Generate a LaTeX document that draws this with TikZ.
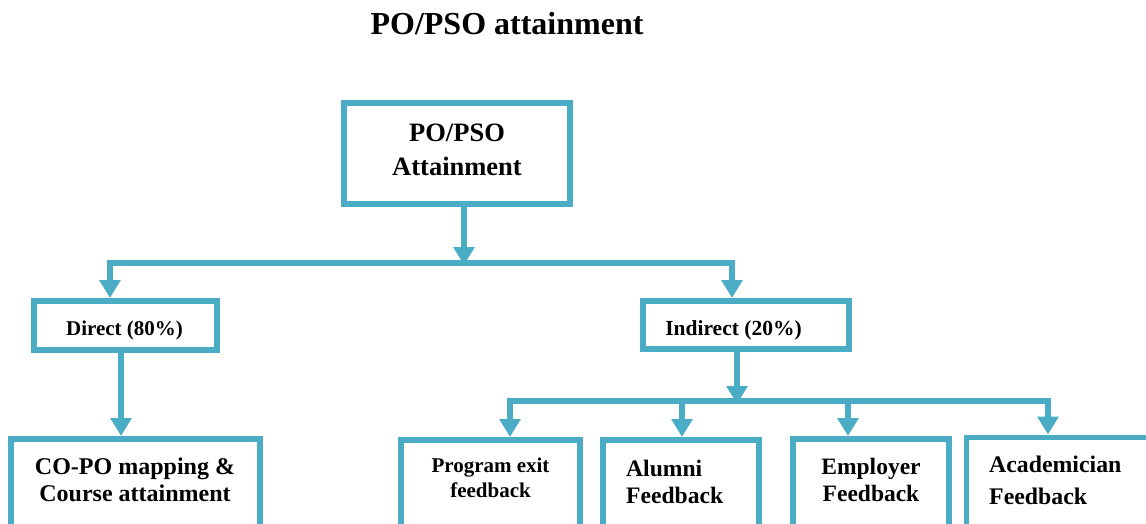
\documentclass[tikz,border=0pt]{standalone}
\usepackage{fontspec}
\setmainfont{Liberation Serif}
\usetikzlibrary{arrows.meta}
\definecolor{frame}{HTML}{4BACC6}
\begin{document}
\begin{tikzpicture}[x=1pt,y=-1pt,
  box/.style={draw=frame,line width=6pt,rectangle,inner sep=0pt,fill=white},
  lbl/.style={inner sep=0pt,font=\bfseries},
  tip/.style={-{Triangle[width=20.5pt,length=18pt]}},
  wire/.style={draw=frame,line width=6pt},
  bothtips/.style={{Triangle[width=20.5pt,length=18pt]}-{Triangle[width=20.5pt,length=18pt]}}]
\useasboundingbox (0,0) rectangle (1146,524);
\begin{scope}
\clip (0,0) rectangle (1146,524);

% heading
\node[lbl,anchor=base,font=\bfseries\fontsize{32}{38}\selectfont] (title) at (507,35) {PO/PSO attainment};

% boxes
\node[box,minimum width=226pt,minimum height=101pt] (main) at (457,153.5) {};
\node[box,minimum width=183pt,minimum height=49pt] (direct) at (125.5,325.5) {};
\node[box,minimum width=206pt,minimum height=48pt] (indirect) at (746,325) {};
\node[box,minimum width=249pt,minimum height=131pt] (copo) at (135.5,504.5) {};
\node[box,minimum width=179pt,minimum height=130pt] (exit) at (490.5,505) {};
\node[box,minimum width=156pt,minimum height=130pt] (alumni) at (681,505) {};
\node[box,minimum width=156pt,minimum height=131pt] (employer) at (871,504.5) {};
\node[box,line width=5pt,minimum width=194pt,minimum height=133pt] (acad) at (1063,503.5) {};

% box texts
\node[lbl,align=center,font=\bfseries\fontsize{26.5}{34}\selectfont] (main-t) at (457,150) {PO/PSO\\Attainment};
\node[lbl,anchor=base,font=\bfseries\fontsize{21}{25}\selectfont] (direct-t) at (124.5,335) {Direct (80\%)};
\node[lbl,anchor=base,font=\bfseries\fontsize{21.5}{25}\selectfont] (indirect-t) at (733.5,335) {Indirect (20\%)};
\node[lbl,align=center,font=\bfseries\fontsize{24}{27}\selectfont] (copo-t) at (135,480) {CO-PO mapping \&\\Course attainment};
\node[lbl,align=center,font=\bfseries\fontsize{21}{25}\selectfont] (exit-t) at (490.5,478) {Program exit\\feedback};
\node[lbl,align=left,anchor=west,font=\bfseries\fontsize{23.6}{27}\selectfont] (alumni-t) at (626,482) {Alumni\\Feedback};
\node[lbl,align=center,font=\bfseries\fontsize{23.5}{27}\selectfont] (employer-t) at (871,480.4) {Employer\\Feedback};
\node[lbl,align=left,anchor=west,font=\bfseries\fontsize{23.8}{32}\selectfont] (acad-t) at (989,480.8) {Academician\\Feedback};

% junction points on the two buses
\coordinate (m1) at (464,263);
\coordinate (b1l) at (110,263);
\coordinate (b1r) at (732,263);
\coordinate (i1) at (737,401);
\coordinate (b2l) at (510,401);
\coordinate (b2r) at (1048,401);

% connectors
\draw[wire,tip] (main.south -| m1) -- ([yshift=-2pt]m1);
\draw[wire,bothtips] (direct.north -| b1l) -- (b1l) -- (b1r) -- (indirect.north -| b1r);
\draw[wire,tip] ([xshift=-4.5pt]direct.south) -- ([xshift=-4.5pt]direct.south |- copo.north);
\draw[wire,tip] (indirect.south -| i1) -- ([yshift=-3pt]i1);
\draw[wire,bothtips] (exit.north -| b2l) -- (b2l) -- (b2r) -- (acad.north -| b2r);
\draw[wire,tip] (682,401) -- (alumni.north -| 682,0);
\draw[wire,tip] (848,401) -- (employer.north -| 848,0);
\end{scope}
\end{tikzpicture}
\end{document}
